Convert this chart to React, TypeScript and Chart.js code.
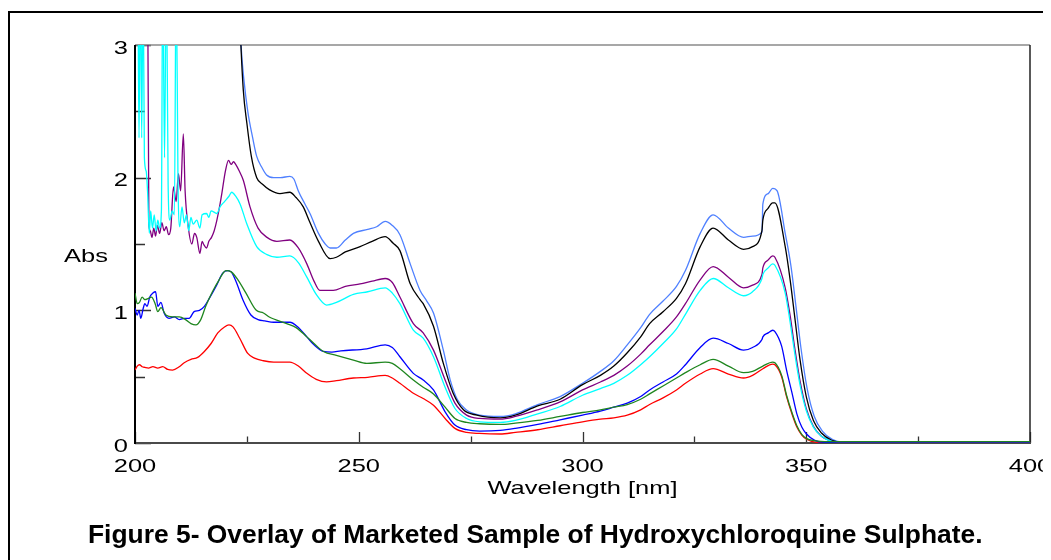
import React, { useEffect, useRef } from 'react';
import { Chart, registerables } from 'chart.js';

Chart.register(...registerables);

type Pt = [number, number];

const xMajorTicks = [200, 250, 300, 350, 400];
const xMinorTicks = [225, 275, 325, 375];
const yMajorTicks = [0, 1, 2, 3];
const yMinorTicks = [0.5, 1.5, 2.5];

const lightBlueSeries: Pt[] = [
  [200, 3.6], [223.0, 3.6], [223.7, 3.0], [224.3, 2.75], [225.2, 2.5], [226.3, 2.3], [227.2, 2.16], [228.3, 2.08],
  [229.4, 2.02], [231, 2.0], [232.5, 2.0], [234.6, 2.01], [235.5, 1.99], [236.5, 1.9], [238, 1.8], [239.1, 1.73],
  [241, 1.58], [242.5, 1.5], [243.6, 1.47], [245, 1.47], [247, 1.53], [248.8, 1.58], [252, 1.61], [254, 1.63],
  [255.9, 1.67], [257.5, 1.64], [259.2, 1.57], [261.5, 1.35], [263.7, 1.15], [265.2, 1.07], [266.7, 0.98],
  [268.9, 0.7], [270.4, 0.48], [272, 0.33], [274, 0.25], [277, 0.21], [281.6, 0.2], [285, 0.22], [290, 0.29],
  [295, 0.35], [300, 0.45], [304, 0.54], [307, 0.62], [310, 0.74], [313, 0.87], [315, 0.97], [318, 1.07],
  [321, 1.18], [323, 1.3], [326.3, 1.58], [329.2, 1.72], [332.6, 1.62], [336, 1.55], [338, 1.56], [340.1, 1.59],
  [340.3, 1.8], [341.5, 1.88], [342.5, 1.92], [343.5, 1.9], [345.3, 1.58], [346.6, 1.33], [347.7, 1.03],
  [348.8, 0.72], [350.2, 0.41], [351.8, 0.2], [353.6, 0.09], [355.9, 0.025], [358.2, 0.006], [362, 0.004], [400, 0.004],
];

const blackSeries: Pt[] = [
  [200, 3.6], [223.0, 3.6], [223.6, 3.05], [224.2, 2.66], [225, 2.41], [226, 2.16], [227.2, 2.0], [228.5, 1.95],
  [230, 1.91], [232.4, 1.88], [234.6, 1.89], [236, 1.85], [237.6, 1.78], [239, 1.67], [241, 1.52], [243.6, 1.39],
  [245, 1.4], [247, 1.44], [250.3, 1.48], [253, 1.52], [255.9, 1.555], [257.7, 1.505], [259.2, 1.45], [261.5, 1.2],
  [263.7, 1.08], [264.4, 1.05], [266.7, 0.88], [268.9, 0.6], [271.1, 0.375], [273.4, 0.25], [276.4, 0.21],
  [281.6, 0.19], [285, 0.21], [290, 0.28], [295, 0.33], [300, 0.44], [304, 0.51], [307, 0.58], [310, 0.68],
  [313, 0.8], [315, 0.9], [318, 0.99], [321, 1.09], [323, 1.2], [326.3, 1.48], [329.2, 1.62], [332.6, 1.53],
  [336, 1.46], [338, 1.48], [340.1, 1.6], [340.3, 1.68], [341.5, 1.77], [342.5, 1.81], [343, 1.81], [345.3, 1.48],
  [346.4, 1.23], [347.5, 0.93], [348.6, 0.63], [350, 0.35], [351.6, 0.17], [353.4, 0.075], [355.7, 0.02],
  [358, 0.005], [362, 0.003], [400, 0.003],
];

const purpleSeries: Pt[] = [
  [200, 3.6], [202.8, 3.6], [203.1, 1.65], [203.4, 1.6], [203.8, 1.55], [204.2, 1.62], [204.6, 1.56], [205, 1.64],
  [205.5, 1.58], [206, 1.66], [206.5, 1.6], [207, 1.63], [207.5, 1.57], [208, 1.62], [208.6, 1.93], [209.2, 1.82],
  [209.7, 2.03], [210.2, 1.9], [210.8, 2.33], [211.2, 1.9], [211.9, 1.63], [212.7, 1.5], [213.3, 1.58],
  [213.8, 1.55], [214.5, 1.43], [215, 1.52], [215.3, 1.5], [216, 1.47], [216.5, 1.52], [217.1, 1.55], [217.7, 1.6],
  [218.3, 1.68], [219, 1.8], [219.4, 1.88], [220.2, 2.05], [220.9, 2.13], [221.5, 2.1], [222, 2.12], [222.5, 2.1],
  [223.3, 2.05], [224.2, 1.98], [225.7, 1.78], [227.5, 1.62], [229.5, 1.55], [231.7, 1.52], [234.6, 1.53],
  [236.5, 1.47], [238.4, 1.35], [240, 1.22], [241.3, 1.15], [244.3, 1.15], [247, 1.18], [250.3, 1.2], [253, 1.22],
  [255.9, 1.24], [257.5, 1.21], [259.2, 1.1], [262.2, 0.9], [264.4, 0.83], [266.7, 0.7], [269.3, 0.475],
  [271.5, 0.3], [274.1, 0.21], [277, 0.185], [281.6, 0.18], [285, 0.2], [290, 0.25], [295, 0.31], [300, 0.4],
  [304, 0.46], [307, 0.51], [310, 0.58], [313, 0.67], [315, 0.74], [318, 0.84], [321, 0.95], [323, 1.05],
  [326.3, 1.23], [329.2, 1.33], [332.6, 1.25], [336, 1.17], [338, 1.19], [340.1, 1.27], [340.3, 1.32],
  [341.5, 1.38], [342.5, 1.41], [343, 1.4], [345.3, 1.17], [346.4, 0.96], [347.5, 0.7], [348.6, 0.47], [350, 0.26],
  [351.6, 0.125], [353.4, 0.05], [355.7, 0.012], [358, 0.004], [362, 0.003], [400, 0.003],
];

const cyanSeries: Pt[] = [
  [200, 3.6], [200.6, 3.6], [200.9, 2.3], [201.2, 3.6], [201.5, 2.3], [201.8, 3.6], [202.1, 2.15], [202.5, 2.05],
  [202.8, 1.9], [203.2, 1.58], [203.5, 1.75], [203.9, 1.62], [204.3, 1.72], [204.7, 1.6], [205.1, 1.68],
  [205.5, 1.62], [205.9, 1.75], [206.2, 3.6], [206.6, 2.15], [207.0, 3.6], [207.4, 1.95], [207.8, 1.68],
  [208.3, 1.75], [208.8, 1.72], [209.2, 3.6], [209.6, 2.0], [210, 1.63], [210.5, 1.78], [211, 1.66], [211.5, 1.72],
  [212, 1.6], [212.5, 1.7], [213, 1.65], [213.8, 1.68], [214.5, 1.62], [215, 1.72], [216, 1.73], [216.5, 1.7],
  [217, 1.75], [218.3, 1.73], [219, 1.78], [220, 1.82], [221, 1.86], [221.6, 1.89], [222.5, 1.86], [223.5, 1.8],
  [225, 1.65], [227.2, 1.48], [229.5, 1.42], [231.7, 1.4], [234.6, 1.41], [236.5, 1.36], [238.4, 1.25],
  [240.5, 1.12], [242.8, 1.04], [245, 1.06], [248.8, 1.12], [252, 1.14], [255.9, 1.17], [257.5, 1.13],
  [259.2, 1.05], [262.2, 0.85], [264.4, 0.79], [266.7, 0.65], [269.3, 0.42], [271.5, 0.26], [274.1, 0.185],
  [277, 0.16], [281.6, 0.155], [285, 0.17], [290, 0.22], [295, 0.275], [300, 0.36], [304, 0.41], [307, 0.45],
  [310, 0.51], [313, 0.59], [315, 0.65], [318, 0.75], [321, 0.86], [323, 0.97], [326.3, 1.15], [329.2, 1.24],
  [332.6, 1.17], [336, 1.11], [338, 1.14], [340.1, 1.24], [340.3, 1.27], [341.5, 1.32], [342.5, 1.35], [343, 1.34],
  [345.3, 1.13], [346.4, 0.91], [347.5, 0.66], [348.6, 0.44], [350, 0.245], [351.6, 0.12], [353.4, 0.05],
  [355.7, 0.012], [358, 0.004], [362, 0.003], [400, 0.003],
];

const blueSeries: Pt[] = [
  [200, 1.015], [200.5, 0.965], [200.9, 1.0], [201.3, 0.94], [201.8, 1.01], [202.2, 1.05], [202.7, 1.03],
  [203.3, 1.1], [204, 1.13], [204.6, 1.14], [205.1, 1.03], [205.8, 1.06], [206.5, 0.98], [207.6, 0.94],
  [208.8, 0.95], [209.9, 0.93], [211, 0.94], [212.1, 0.94], [213.2, 0.99], [214.4, 1.0], [215.5, 1.03],
  [216.6, 1.09], [218.1, 1.18], [219.6, 1.28], [220.7, 1.3], [221.5, 1.29], [222.6, 1.215], [224.1, 1.08],
  [225.9, 0.965], [227.5, 0.93], [229, 0.92], [231, 0.91], [233, 0.91], [234.6, 0.91], [236.5, 0.87], [238.4, 0.8],
  [240, 0.74], [242.1, 0.69], [244, 0.685], [246, 0.695], [251.8, 0.71], [255.9, 0.74], [257.5, 0.72],
  [259.2, 0.65], [262.2, 0.525], [264.4, 0.475], [266.7, 0.4], [269.3, 0.235], [271.5, 0.135], [274.1, 0.1],
  [277, 0.09], [281.6, 0.095], [285, 0.11], [290, 0.14], [295, 0.175], [300, 0.21], [304, 0.24], [307, 0.27],
  [310, 0.3], [313, 0.35], [315, 0.4], [318, 0.46], [321, 0.52], [323, 0.59], [326.3, 0.72], [329.2, 0.79],
  [332.6, 0.75], [336, 0.7], [338, 0.72], [340.1, 0.78], [340.3, 0.8], [341.5, 0.83], [342.5, 0.85], [343, 0.84],
  [344.5, 0.73], [345.6, 0.55], [346.8, 0.38], [347.9, 0.22], [349, 0.12], [350, 0.07], [351.9, 0.02],
  [354, 0.005], [362, 0.001], [400, 0.001],
];

const greenSeries: Pt[] = [
  [200, 1.13], [200.5, 1.05], [201, 1.06], [201.6, 1.1], [202.2, 1.08], [203, 1.09], [203.7, 1.1], [204.5, 1.05],
  [205.1, 0.99], [205.8, 1.02], [206.9, 0.965], [208.4, 0.95], [209.9, 0.95], [211.3, 0.93], [212.5, 0.9],
  [213.6, 0.89], [214.7, 0.93], [215.8, 1.03], [217.3, 1.14], [218.8, 1.23], [220.3, 1.3], [221.5, 1.29],
  [223, 1.23], [224.8, 1.13], [227.1, 1.0], [228.7, 0.98], [230, 0.95], [233.9, 0.9], [236, 0.87], [238.4, 0.8],
  [240, 0.75], [242.1, 0.69], [245, 0.66], [248.8, 0.625], [251.8, 0.6], [255.9, 0.61], [257.5, 0.6],
  [259.2, 0.56], [262.2, 0.475], [264.4, 0.42], [266.7, 0.37], [269.3, 0.27], [271.5, 0.185], [274.1, 0.155],
  [277, 0.145], [281.6, 0.14], [285, 0.15], [290, 0.17], [295, 0.2], [300, 0.23], [304, 0.25], [307, 0.27],
  [310, 0.29], [313, 0.33], [315, 0.37], [318, 0.43], [321, 0.49], [323, 0.53], [326.3, 0.59], [329.2, 0.63],
  [332.6, 0.58], [336, 0.53], [338, 0.54], [340.3, 0.58], [342.5, 0.61], [343, 0.605], [344.5, 0.51],
  [345.6, 0.36], [346.8, 0.23], [347.9, 0.13], [349, 0.065], [350, 0.035], [352, 0.016], [355, 0.01],
  [400, 0.01],
];

const redSeries: Pt[] = [
  [200, 0.55], [200.5, 0.58], [201, 0.59], [201.6, 0.575], [202.2, 0.57], [203, 0.565], [204, 0.575],
  [205.1, 0.565], [206.2, 0.575], [207.3, 0.555], [208.4, 0.55], [209.9, 0.575], [211, 0.605], [212.5, 0.63],
  [214, 0.645], [215.5, 0.69], [217, 0.75], [218.5, 0.83], [220, 0.875], [221, 0.89], [221.9, 0.875],
  [223.4, 0.79], [225.2, 0.675], [226.7, 0.64], [228.7, 0.62], [231, 0.61], [234.6, 0.61], [236.5, 0.58],
  [238.4, 0.525], [240.5, 0.48], [242.8, 0.46], [245, 0.47], [248.8, 0.49], [252, 0.495], [255.9, 0.51],
  [257.5, 0.49], [259.2, 0.45], [262.2, 0.375], [264.4, 0.335], [266.7, 0.285], [269.3, 0.185], [271.5, 0.11],
  [274.1, 0.08], [277, 0.072], [281.6, 0.068], [285, 0.08], [290, 0.1], [295, 0.13], [300, 0.16], [304, 0.18],
  [307, 0.19], [310, 0.21], [313, 0.25], [315, 0.29], [318, 0.34], [321, 0.4], [323, 0.45], [326.3, 0.52],
  [329.2, 0.56], [332.6, 0.52], [336, 0.49], [338, 0.51], [340.3, 0.56], [342.5, 0.595], [343, 0.59],
  [344.5, 0.5], [345.6, 0.35], [346.8, 0.22], [347.9, 0.12], [349, 0.06], [350, 0.03], [352, 0.006],
  [355, 0.001], [400, 0.001],
];

const seriesList: { label: string; color: string; pts: Pt[] }[] = [
  { label: 'Sample 5', color: '#1f861f', pts: greenSeries },
  { label: 'Sample 6', color: '#0000ff', pts: blueSeries },
  { label: 'Sample 7', color: '#ff0000', pts: redSeries },
  { label: 'Sample 4', color: '#00ffff', pts: cyanSeries },
  { label: 'Sample 3', color: '#800080', pts: purpleSeries },
  { label: 'Sample 2', color: '#000000', pts: blackSeries },
  { label: 'Sample 1', color: '#4f80ff', pts: lightBlueSeries },
];

const xAxisTitle = 'Wavelength [nm]';
const yAxisTitle = 'Abs';
const caption = 'Figure 5- Overlay of Marketed Sample of Hydroxychloroquine Sulphate.';

const FONT = '17.7px "Liberation Sans", Arial, sans-serif';
const STRETCH = 1.44;

function drawStretched(ctx: CanvasRenderingContext2D, text: string, x: number, y: number, align: CanvasTextAlign) {
  ctx.save();
  ctx.translate(x, y);
  ctx.scale(STRETCH, 1);
  ctx.font = FONT;
  ctx.fillStyle = '#000';
  ctx.textAlign = align;
  ctx.textBaseline = 'alphabetic';
  ctx.fillText(text, 0, 0);
  ctx.restore();
}

const axesPlugin = {
  id: 'spectroAxes',
  beforeDatasetsDraw(chart: any) {
    const { ctx, chartArea: a, scales } = chart;
    const xs = scales.x;
    const ys = scales.y;
    ctx.save();
    ctx.strokeStyle = '#333';
    ctx.lineWidth = 1.3;
    ctx.beginPath();
    xMajorTicks.forEach((v) => {
      const p = Math.round(xs.getPixelForValue(v)) + 0.5;
      ctx.moveTo(p, a.bottom);
      ctx.lineTo(p, a.bottom - 11);
    });
    xMinorTicks.forEach((v) => {
      const p = Math.round(xs.getPixelForValue(v)) + 0.5;
      ctx.moveTo(p, a.bottom);
      ctx.lineTo(p, a.bottom - 6.5);
    });
    yMajorTicks.forEach((v) => {
      const p = Math.round(ys.getPixelForValue(v)) + 0.5;
      ctx.moveTo(a.left, p);
      ctx.lineTo(a.left + 16, p);
    });
    yMinorTicks.forEach((v) => {
      const p = Math.round(ys.getPixelForValue(v)) + 0.5;
      ctx.moveTo(a.left, p);
      ctx.lineTo(a.left + 10, p);
    });
    ctx.stroke();

    ctx.strokeStyle = '#8a8a8a';
    ctx.lineWidth = 1.5;
    ctx.beginPath();
    ctx.moveTo(a.left, a.top);
    ctx.lineTo(a.right, a.top);
    ctx.stroke();
    ctx.strokeStyle = '#222';
    ctx.beginPath();
    ctx.moveTo(a.right, a.top);
    ctx.lineTo(a.right, a.bottom);
    ctx.stroke();
    ctx.strokeStyle = '#4a4a4a';
    ctx.lineWidth = 2;
    ctx.beginPath();
    ctx.moveTo(a.left, a.bottom);
    ctx.lineTo(a.right + 1, a.bottom);
    ctx.stroke();
    ctx.strokeStyle = '#000';
    ctx.beginPath();
    ctx.moveTo(a.left, a.top);
    ctx.lineTo(a.left, a.bottom + 1);
    ctx.stroke();
    ctx.restore();
  },
  afterDraw(chart: any) {
    const { ctx, chartArea: a, scales } = chart;
    const xs = scales.x;
    const ys = scales.y;
    xMajorTicks.forEach((v) => {
      drawStretched(ctx, String(v), xs.getPixelForValue(v), a.bottom + 28.7, 'center');
    });
    yMajorTicks.forEach((v) => {
      drawStretched(ctx, String(v), a.left - 7, ys.getPixelForValue(v) + 8.5, 'right');
    });
    drawStretched(ctx, yAxisTitle, a.left - 49, a.top + 216.5, 'center');
    drawStretched(ctx, xAxisTitle, (a.left + a.right) / 2, a.bottom + 51, 'center');
  },
};

export default function App() {
  const canvasRef = useRef<HTMLCanvasElement | null>(null);

  useEffect(() => {
    if (!canvasRef.current) return;
    const chart = new Chart(canvasRef.current, {
      type: 'line',
      data: {
        datasets: seriesList.map((s) => ({
          label: s.label,
          data: s.pts.map(([x, y]) => ({ x, y })),
          borderColor: s.color,
          backgroundColor: s.color,
          borderWidth: 1.3,
          pointRadius: 0,
          pointHoverRadius: 0,
          fill: false,
          cubicInterpolationMode: 'monotone' as const,
        })),
      },
      options: {
        responsive: false,
        animation: false,
        devicePixelRatio: 1,
        events: [],
        layout: { padding: { left: 127, top: 37, right: 21, bottom: 95 } },
        plugins: {
          legend: { display: false },
          tooltip: { enabled: false },
          title: { display: false },
        },
        scales: {
          x: { type: 'linear', min: 200, max: 400, display: false },
          y: { type: 'linear', min: 0, max: 3, display: false },
        },
      },
      plugins: [axesPlugin],
    });
    return () => chart.destroy();
  }, []);

  return (
    <div style={{ position: 'relative', width: 1043, height: 552, overflow: 'hidden', background: '#fff' }}>
      <div
        style={{
          position: 'absolute',
          left: 0,
          top: 3,
          width: 1090,
          height: 620,
          border: '2px solid #000',
          boxSizing: 'border-box',
        }}
      />
      <canvas
        ref={canvasRef}
        width={1043}
        height={530}
        style={{ position: 'absolute', left: 0, top: 0, width: 1043, height: 530 }}
      />
      <div
        style={{
          position: 'absolute',
          left: 80,
          top: 513.3,
          whiteSpace: 'nowrap',
          fontFamily: '"Liberation Sans", Arial, sans-serif',
          fontWeight: 'bold',
          fontSize: '26.4px',
          lineHeight: '26px',
          color: '#000',
        }}
      >
        {caption}
      </div>
    </div>
  );
}
